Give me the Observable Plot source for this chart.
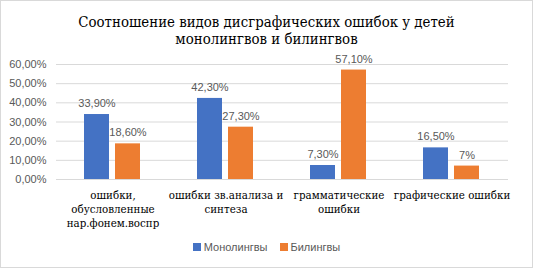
<!DOCTYPE html>
<html><head><meta charset="utf-8">
<script src="https://cdn.jsdelivr.net/npm/d3@7"></script>
<script src="https://cdn.jsdelivr.net/npm/@observablehq/plot@0.6"></script>
<style>
body{margin:0;background:#fff;}
#chart{position:relative;width:533px;height:268px;box-sizing:border-box;border:1px solid #d9d9d9;overflow:hidden;background:#fff;}
#title{height:45px;box-sizing:border-box;padding-top:13px;text-align:center;}
#title div{font-family:"DejaVu Serif",serif;font-size:15px;line-height:17px;color:#000;transform:scaleX(0.89);white-space:nowrap;}
#plot svg{display:block;}
#legend{display:flex;justify-content:center;align-items:center;padding-top:2px;height:14px;font-family:"Liberation Sans",sans-serif;font-size:11px;color:#595959;}
.item{display:flex;align-items:center;margin:0 6px;}
.sw{width:8px;height:8px;margin-right:3px;}
</style>
</head><body>
<div id="chart">
  <div id="title"></div>
  <div id="plot"></div>
  <div id="legend"></div>
</div>
<script>
const titleLines = ["Соотношение видов дисграфических ошибок у детей", "монолингвов и билингвов"];
const categories = ["ошибки, обусловленные нар.фонем.воспр", "ошибки зв.анализа и синтеза", "грамматические ошибки", "графические ошибки"];
const categoryLabels = ["ошибки,\nобусловленные\nнар.фонем.воспр", "ошибки зв.анализа и\nсинтеза", "грамматические\nошибки", "графические ошибки"];
const series = ["Монолингвы", "Билингвы"];
const monolingual = [33.9, 42.3, 7.3, 16.5];
const bilingual = [18.6, 27.3, 57.1, 7];
const monoLabels = ["33,90%", "42,30%", "7,30%", "16,50%"];
const biLabels = ["18,60%", "27,30%", "57,10%", "7%"];
const yTicks = [0, 10, 20, 30, 40, 50, 60];
const colors = ["#4472C4", "#ED7D31"];

const titleEl = document.getElementById("title");
titleLines.forEach(t => {
  const d = document.createElement("div");
  d.textContent = t;
  titleEl.appendChild(d);
});

const rows = categories.flatMap((c, i) => [
  {cat: c, s: series[0], v: monolingual[i], label: monoLabels[i]},
  {cat: c, s: series[1], v: bilingual[i], label: biLabels[i]}
]);

const fmt = d => d.toFixed(2).replace(".", ",") + "%";

const chart = Plot.plot({
  width: 531, height: 192,
  marginTop: 18, marginBottom: 59, marginLeft: 54, marginRight: 24,
  style: {fontFamily: "Liberation Sans, sans-serif", fontSize: "11px", background: "#fff"},
  fx: {domain: categories, padding: 0, label: null},
  x: {domain: series, paddingInner: 0.1875, paddingOuter: 0.86, axis: null},
  y: {domain: [0, 60]},
  color: {domain: series, range: colors},
  marks: [
    Plot.gridY(yTicks, {stroke: "#d9d9d9", strokeOpacity: 1}),
    Plot.axisY(yTicks, {tickSize: 0, tickPadding: 10, tickFormat: fmt, fontSize: 11, fill: "#595959", label: null}),
    Plot.barY(rows, {fx: "cat", x: "s", y: "v", fill: "s"}),
    Plot.text(rows, {fx: "cat", x: "s", y: "v", text: "label", dy: -11, fontSize: 11, fill: "#595959"}),
    Plot.axisFx({anchor: "bottom", tickSize: 0, tickPadding: 10, label: null,
      tickFormat: d => categoryLabels[categories.indexOf(d)],
      fontSize: 10.3, fontFamily: "'DejaVu Serif', serif", lineHeight: 1.36, fill: "#000"})
  ]
});
document.getElementById("plot").appendChild(chart);

const legend = document.getElementById("legend");
series.forEach((s, i) => {
  const it = document.createElement("div");
  it.className = "item";
  it.innerHTML = `<div class="sw" style="background:${colors[i]}"></div><span>${s}</span>`;
  legend.appendChild(it);
});
</script>
</body></html>
